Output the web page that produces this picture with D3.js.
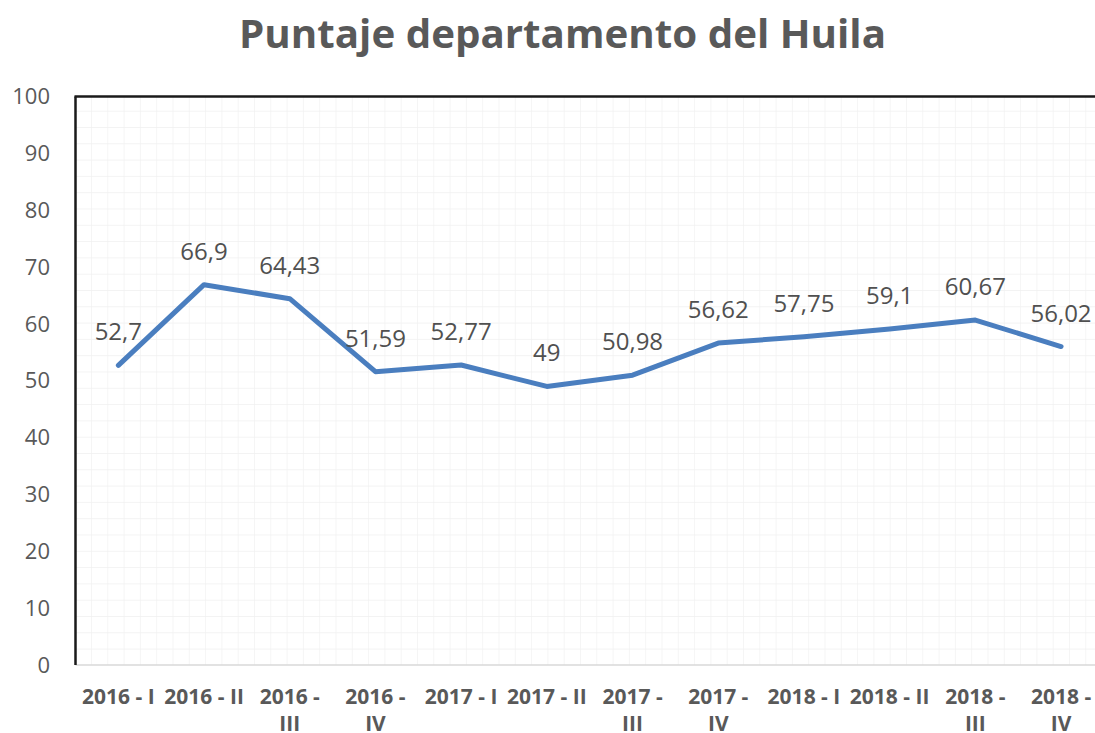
<!DOCTYPE html>
<html>
<head>
<meta charset="utf-8">
<script src="https://cdn.jsdelivr.net/npm/d3@7"></script>
<style>
  body { margin: 0; background: #fff; }
  svg { display: block; font-family: "Open Sans", sans-serif; }
</style>
</head>
<body>
<div id="chart"></div>
<script>
// Puntaje departamento del Huila

const periods = [
  "2016 - I", "2016 - II", "2016 - III", "2016 - IV",
  "2017 - I", "2017 - II", "2017 - III", "2017 - IV",
  "2018 - I", "2018 - II", "2018 - III", "2018 - IV"
];
const scores = [52.7, 66.9, 64.43, 51.59, 52.77, 49, 50.98, 56.62, 57.75, 59.1, 60.67, 56.02];
const scoreLabels = ["52,7", "66,9", "64,43", "51,59", "52,77", "49", "50,98", "56,62", "57,75", "59,1", "60,67", "56,02"];
const yTicks = [0, 10, 20, 30, 40, 50, 60, 70, 80, 90, 100];

const width = 1095;
const height = 733;
const margin = { top: 96.5, left: 75.5, bottom: 665 };
const plotRight = margin.left + 85.7 * periods.length;

const textGray = "#595959";
const lineBlue = "#4a7ebf";

const svg = d3.select("#chart")
  .append("svg")
  .attr("width", width)
  .attr("height", height);

const x = d3.scaleBand()
  .domain(periods)
  .range([margin.left, plotRight]);

const y = d3.scaleLinear()
  .domain([0, 100])
  .range([margin.bottom, margin.top]);

// faint square grid of the plot area
const defs = svg.append("defs");
const pat = defs.append("pattern")
  .attr("id", "grid")
  .attr("patternUnits", "userSpaceOnUse")
  .attr("x", 74.7)
  .attr("y", 94.4)
  .attr("width", 16.3)
  .attr("height", 16.3);
pat.append("path")
  .attr("d", "M0,0V16.3M0,0H16.3")
  .attr("stroke", "#f0f0f0")
  .attr("stroke-width", 1.2)
  .attr("fill", "none");

svg.append("rect")
  .attr("x", margin.left)
  .attr("y", margin.top)
  .attr("width", plotRight - margin.left)
  .attr("height", margin.bottom - margin.top)
  .attr("fill", "url(#grid)");

// title
svg.append("text")
  .attr("x", 239)
  .attr("y", 48)
  .attr("textLength", 647)
  .attr("lengthAdjust", "spacingAndGlyphs")
  .style("font-size", "39px")
  .style("font-weight", "bold")
  .style("fill", textGray)
  .text("Puntaje departamento del Huila");

// y axis labels
svg.append("g")
  .selectAll("text")
  .data(yTicks)
  .enter().append("text")
  .attr("x", 50)
  .attr("y", d => y(d))
  .attr("dy", "0.35em")
  .attr("text-anchor", "end")
  .style("font-size", "22px")
  .style("fill", textGray)
  .text(d => d);

// bottom axis (gray)
svg.append("line")
  .attr("x1", margin.left)
  .attr("x2", plotRight)
  .attr("y1", y(0))
  .attr("y2", y(0))
  .attr("stroke", "#d9d9d9")
  .attr("stroke-width", 1.5);

// top border and left axis (black)
svg.append("line")
  .attr("x1", margin.left - 1)
  .attr("x2", plotRight)
  .attr("y1", y(100))
  .attr("y2", y(100))
  .attr("stroke", "#1a1a1a")
  .attr("stroke-width", 2.5);

svg.append("line")
  .attr("x1", margin.left)
  .attr("x2", margin.left)
  .attr("y1", y(100))
  .attr("y2", y(0))
  .attr("stroke", "#1a1a1a")
  .attr("stroke-width", 2.5);

// x labels, wrapped like the original
const xLabels = svg.append("g")
  .selectAll("text")
  .data(periods)
  .enter().append("text")
  .attr("x", d => x(d) + x.bandwidth() / 2)
  .attr("y", 704)
  .attr("text-anchor", "middle")
  .style("font-size", "21px")
  .style("font-weight", "bold")
  .style("fill", textGray);

xLabels.each(function (d) {
  const t = d3.select(this);
  const cx = x(d) + x.bandwidth() / 2;
  if (/ - (III|IV)$/.test(d)) {
    const parts = d.split(" - ");
    t.append("tspan").attr("x", cx).text(parts[0] + " -");
    t.append("tspan").attr("x", cx).attr("dy", 27).text(parts[1]);
  } else {
    t.text(d);
  }
});

// line
const line = d3.line()
  .x((d, i) => x(periods[i]) + x.bandwidth() / 2)
  .y(d => y(d));

svg.append("path")
  .datum(scores)
  .attr("d", line)
  .attr("fill", "none")
  .attr("stroke", lineBlue)
  .attr("stroke-width", 5)
  .attr("stroke-linejoin", "round")
  .attr("stroke-linecap", "round");

// data labels
svg.append("g")
  .selectAll("text")
  .data(scores)
  .enter().append("text")
  .attr("x", (d, i) => x(periods[i]) + x.bandwidth() / 2)
  .attr("y", d => y(d) - 25)
  .attr("text-anchor", "middle")
  .style("font-size", "24px")
  .style("fill", "#505050")
  .text((d, i) => scoreLabels[i]);
</script>
</body>
</html>
